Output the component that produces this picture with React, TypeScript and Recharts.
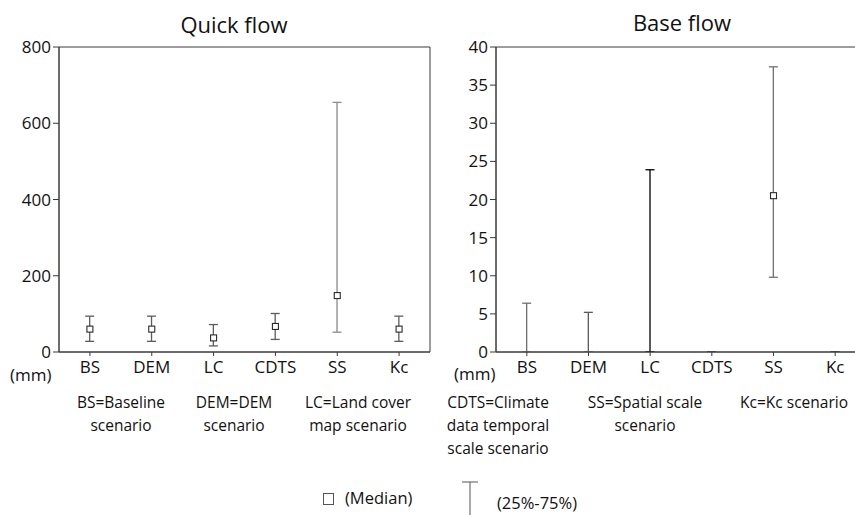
import React from 'react'
import { ComposedChart, Bar, Scatter, XAxis, YAxis, ReferenceArea } from 'recharts'

const categories = ['BS', 'DEM', 'LC', 'CDTS', 'SS', 'Kc']

// Quick flow (mm): 25%, median, 75%
const quickLow = [28, 28, 16, 33, 52, 28]
const quickMedian = [60, 60, 37, 67, 148, 60]
const quickHigh = [94, 94, 72, 101, 655, 94]
const quickTicks = [0, 200, 400, 600, 800]

// Base flow (mm)
const baseLow = [0, 0, 0, 0, 9.8, 0]
const baseMedian = [0, 0, 0, 0, 20.5, 0]
const baseHigh = [6.4, 5.2, 23.9, 0, 37.4, 0]
const baseTicks = [0, 5, 10, 15, 20, 25, 30, 35, 40]

const quickColors = ['#5c5c5c', '#5c5c5c', '#5c5c5c', '#5c5c5c', '#8a8a8a', '#5c5c5c']
const baseColors = ['#6e6e6e', '#5a5a5a', '#000000', '#444444', '#707070', '#444444']

const FONT = '"Open Sans", sans-serif'
const AXIS = '#3a3a3a'

const buildRows = (low: number[], med: number[], high: number[]) =>
  categories.map((name, i) => ({ name, median: med[i], range: [low[i], high[i]] }))

const Whisker = (colors: string[]) => (props: any) => {
  const { x, y, width, height, index } = props
  const cx = x + width / 2
  const top = Math.min(y, y + height)
  const bottom = Math.max(y, y + height)
  const c = colors[index] || '#5c5c5c'
  return (
    <g>
      <line x1={cx} x2={cx} y1={top} y2={bottom} stroke={c} strokeWidth={1.3} />
      <line x1={cx - 4.5} x2={cx + 4.5} y1={top} y2={top} stroke={c} strokeWidth={1.3} />
      <line x1={cx - 4.5} x2={cx + 4.5} y1={bottom} y2={bottom} stroke={c} strokeWidth={1.3} />
    </g>
  )
}

const MedianBox = (props: any) => {
  const { cx, cy, payload } = props
  if (!payload || payload.median === 0) return <g />
  return <rect x={cx - 3} y={cy - 3} width={6} height={6} fill="#fff" stroke="#2a2a2a" strokeWidth={1.1} />
}

interface PanelProps {
  rows: any[]
  ticks: number[]
  max: number
  colors: string[]
  width: number
  yWidth: number
  right: number
}

const FlowPanel: React.FC<PanelProps> = ({ rows, ticks, max, colors, width, yWidth, right }) => (
  <ComposedChart width={width} height={385} data={rows} margin={{ top: 47, right, left: 0, bottom: 0 }}>
    <XAxis
      dataKey="name"
      height={33}
      tickSize={4}
      tickMargin={5}
      axisLine={{ stroke: AXIS }}
      tickLine={{ stroke: AXIS }}
      tick={{ fill: '#111', fontSize: 17, fontFamily: FONT }}
      interval={0}
    />
    <YAxis
      domain={[0, max]}
      ticks={ticks}
      width={yWidth}
      tickSize={6}
      tickMargin={2}
      axisLine={{ stroke: AXIS }}
      tickLine={{ stroke: AXIS }}
      tick={{ fill: '#111', fontSize: 17, fontFamily: FONT }}
      allowDataOverflow
    />
    <ReferenceArea y1={0} y2={max} stroke={AXIS} strokeWidth={1} fill="none" fillOpacity={0} ifOverflow="visible" />
    <Bar dataKey="range" shape={Whisker(colors)} isAnimationActive={false} />
    <Scatter dataKey="median" shape={MedianBox} isAnimationActive={false} />
  </ComposedChart>
)

const notes = [
  { cx: 121, lines: ['BS=Baseline', 'scenario'] },
  { cx: 234, lines: ['DEM=DEM', 'scenario'] },
  { cx: 358, lines: ['LC=Land cover', 'map scenario'] },
  { cx: 498, lines: ['CDTS=Climate', 'data temporal', 'scale scenario'] },
  { cx: 645, lines: ['SS=Spatial scale', 'scenario'] },
  { cx: 794, lines: ['Kc=Kc scenario'] },
]

const abs = (left: number, top: number): React.CSSProperties => ({ position: 'absolute', left, top })

export default function App() {
  const quickRows = buildRows(quickLow, quickMedian, quickHigh)
  const baseRows = buildRows(baseLow, baseMedian, baseHigh)
  return (
    <div style={{ position: 'absolute', left: 0, top: 0, width: 855, height: 515, overflow: 'hidden', background: '#fff', fontFamily: FONT, color: '#111' }}>
      <div style={{ ...abs(134, 7), width: 200, textAlign: 'center', fontSize: 22, lineHeight: '34px' }}>Quick flow</div>
      <div style={{ ...abs(582, 5), width: 200, textAlign: 'center', fontSize: 22, lineHeight: '34px' }}>Base flow</div>

      <div style={abs(0, 0)}>
        <FlowPanel rows={quickRows} ticks={quickTicks} max={800} colors={quickColors} width={434} yWidth={59} right={4} />
      </div>
      <div style={abs(436, 0)}>
        <FlowPanel rows={baseRows} ticks={baseTicks} max={40} colors={baseColors} width={440} yWidth={60} right={10} />
      </div>

      <div style={{ ...abs(10, 366), fontSize: 17, lineHeight: '18px' }}>(mm)</div>
      <div style={{ ...abs(454, 365), fontSize: 17, lineHeight: '18px' }}>(mm)</div>

      {notes.map((n) => (
        <div key={n.cx} style={{ ...abs(n.cx - 80, 391), width: 160, textAlign: 'center', fontSize: 15.5, lineHeight: '23px' }}>
          {n.lines.map((l) => (
            <div key={l}>{l}</div>
          ))}
        </div>
      ))}

      <svg style={abs(318, 478)} width={170} height={40}>
        <rect x={5.5} y={15.5} width={10} height={11} fill="#fff" stroke="#555" />
        <line x1={152} x2={152} y1={4} y2={40} stroke="#555" />
        <line x1={144} x2={160} y1={4} y2={4} stroke="#555" />
      </svg>
      <div style={{ ...abs(345, 485), fontSize: 16.5, lineHeight: '26px' }}>(Median)</div>
      <div style={{ ...abs(497, 490), fontSize: 16.5, lineHeight: '26px' }}>(25%-75%)</div>
    </div>
  )
}
